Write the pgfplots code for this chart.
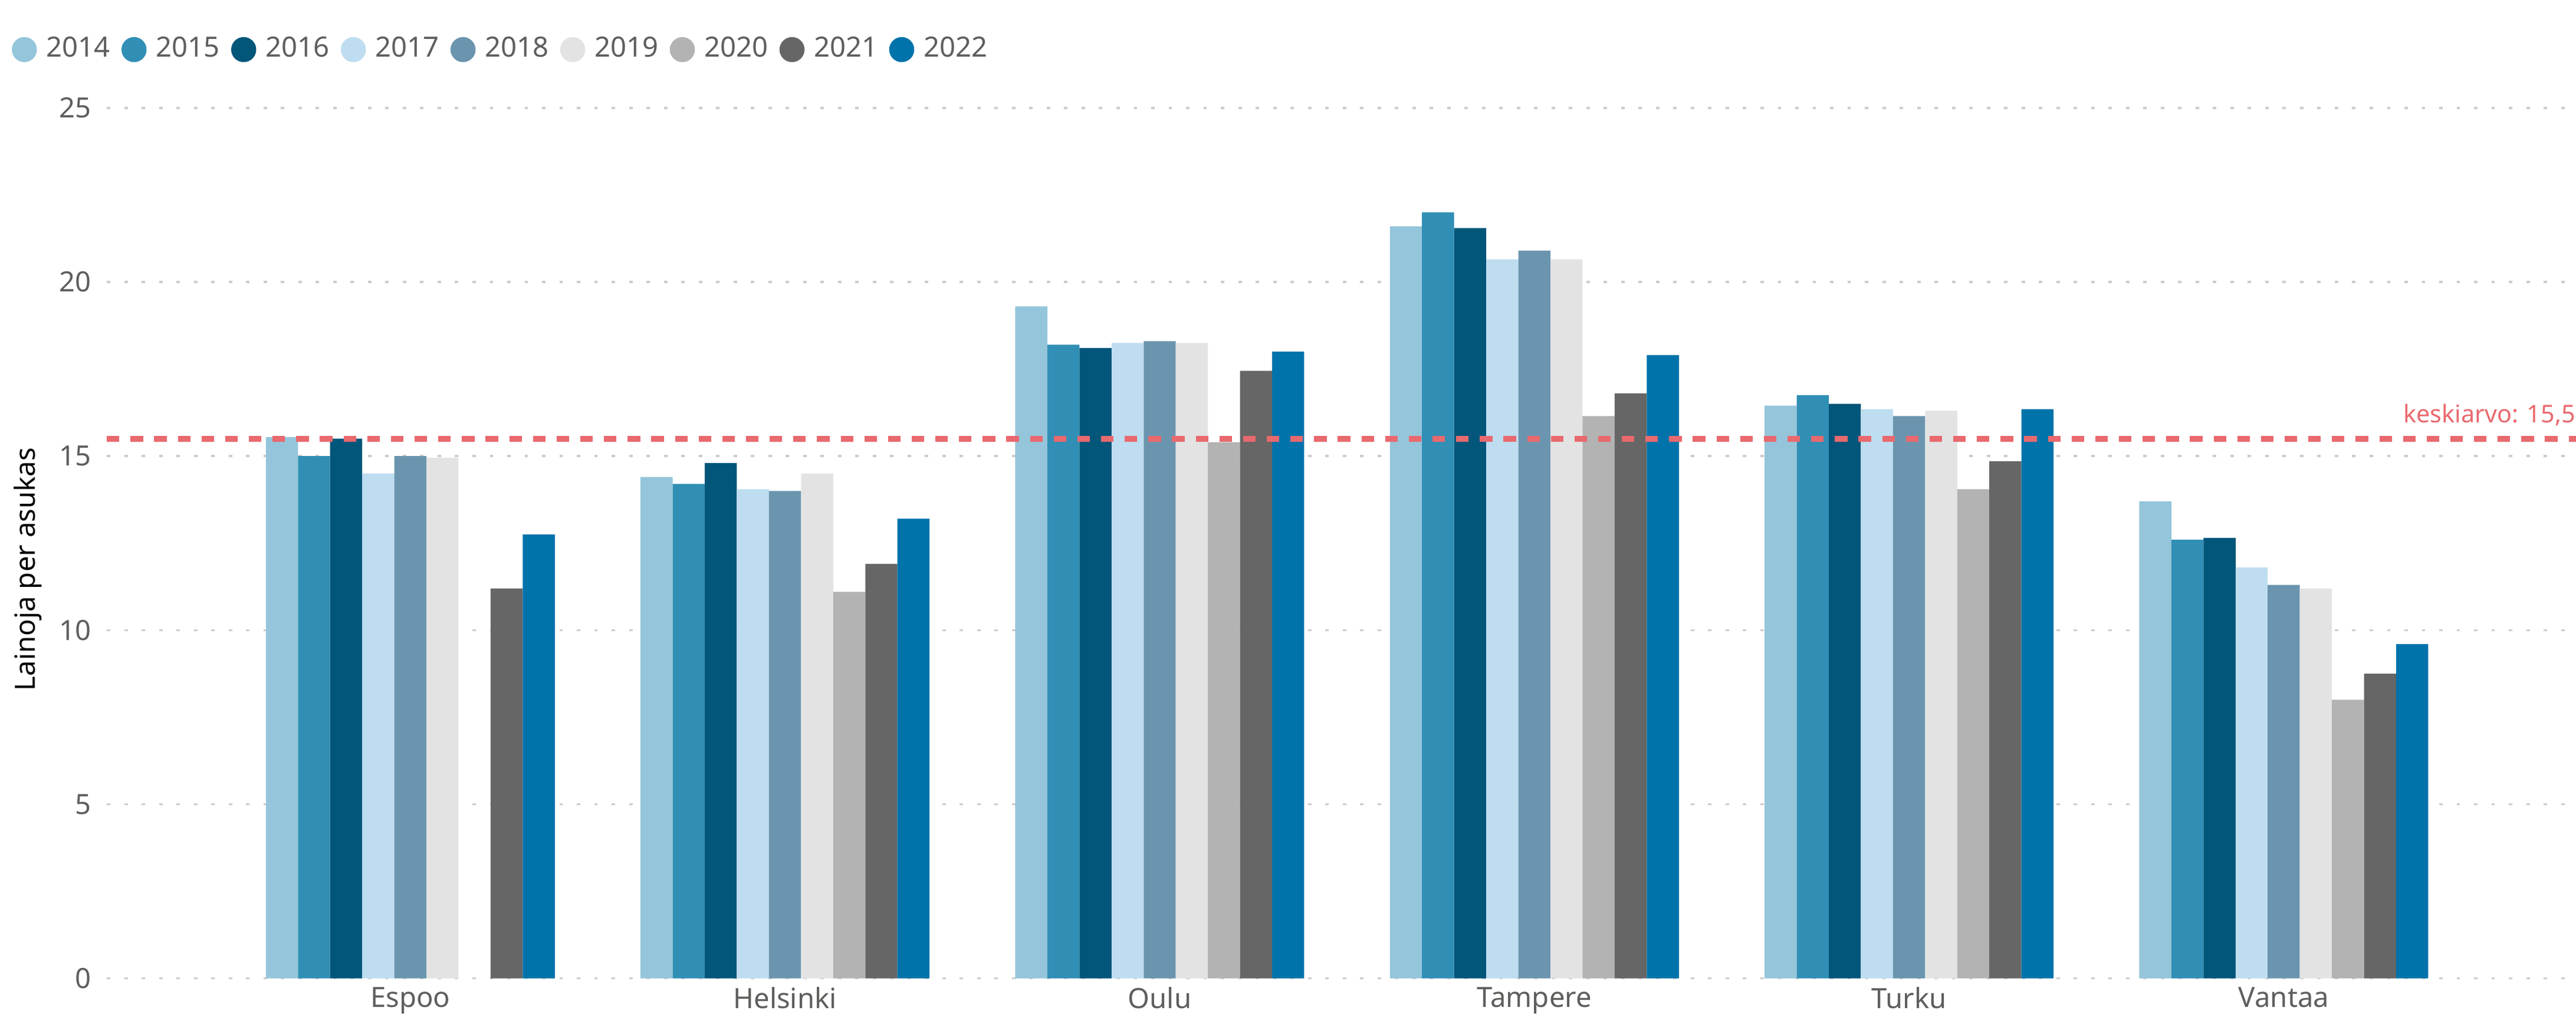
\documentclass[border=0pt]{standalone}
\usepackage{fontspec}
\setmainfont{Noto Sans}
\usepackage{pgfplots}
\pgfplotsset{compat=1.18}

\definecolor{c14}{HTML}{95C5DA}
\definecolor{c15}{HTML}{318FB5}
\definecolor{c16}{HTML}{02567A}
\definecolor{c17}{HTML}{BEDDF0}
\definecolor{c18}{HTML}{6B95AF}
\definecolor{c19}{HTML}{E3E3E3}
\definecolor{c20}{HTML}{B3B3B3}
\definecolor{c21}{HTML}{666666}
\definecolor{c22}{HTML}{0173AB}
\definecolor{avgred}{HTML}{E8696E}
\definecolor{ticktxt}{HTML}{605E5C}

\pgfplotsset{
  dotlegend/.style={legend image code/.code={\fill[##1] (0.3em,0em) circle (0.36em);}},
}

\begin{document}
\begin{tikzpicture}
\path[use as bounding box] (0,0) rectangle (740pt,294pt);
\begin{axis}[
  at={(30.7pt,13pt)}, anchor=south west,
  scale only axis,
  width=709.3pt, height=250pt,
  ymin=0, ymax=25,
  ytick={0,5,...,25},
  xmin=-0.81, xmax=5.78,
  xtick={0,1,2,3,4,5},
  xticklabels={Espoo,Helsinki,Oulu,Tampere,Turku,Vantaa},
  axis line style={draw=none},
  tick style={draw=none},
  ymajorgrids=true,
  grid style={gray!40, line width=0.6pt, dash pattern=on 1pt off 4pt},
  /pgf/number format/assume math mode=true,
  tick label style={font=\fontsize{8}{9}\selectfont, text=ticktxt},
  yticklabel style={xshift=-1pt},
  xticklabel style={yshift=1pt},
  ylabel={Lainoja per asukas},
  ylabel style={font=\fontsize{8}{9}\selectfont, at={(axis description cs:-0.032,0.47)}, anchor=center},
  legend style={draw=none, fill=none, at={(-0.043,1.067)}, anchor=west,
    font=\fontsize{8}{9}\selectfont, text=ticktxt, legend columns=-1,
    /tikz/every even column/.append style={column sep=1.3pt},
    /tikz/every odd column/.append style={column sep=0.7pt}},
  legend cell align=left,
]
\addplot[ybar, bar width=0.0857, bar shift=-0.3428, fill=c14, draw=none, dotlegend] coordinates {(0,15.55) (1,14.4) (2,19.3) (3,21.6) (4,16.45) (5,13.7)};
\addplot[ybar, bar width=0.0857, bar shift=-0.2571, fill=c15, draw=none, dotlegend] coordinates {(0,15.0) (1,14.2) (2,18.2) (3,22.0) (4,16.75) (5,12.6)};
\addplot[ybar, bar width=0.0857, bar shift=-0.1714, fill=c16, draw=none, dotlegend] coordinates {(0,15.5) (1,14.8) (2,18.1) (3,21.55) (4,16.5) (5,12.65)};
\addplot[ybar, bar width=0.0857, bar shift=-0.0857, fill=c17, draw=none, dotlegend] coordinates {(0,14.5) (1,14.05) (2,18.25) (3,20.65) (4,16.35) (5,11.8)};
\addplot[ybar, bar width=0.0857, bar shift=0, fill=c18, draw=none, dotlegend] coordinates {(0,15.0) (1,14.0) (2,18.3) (3,20.9) (4,16.15) (5,11.3)};
\addplot[ybar, bar width=0.0857, bar shift=0.0857, fill=c19, draw=none, dotlegend] coordinates {(0,14.95) (1,14.5) (2,18.25) (3,20.65) (4,16.3) (5,11.2)};
\addplot[ybar, bar width=0.0857, bar shift=0.1714, fill=c20, draw=none, dotlegend] coordinates {(1,11.1) (2,15.4) (3,16.15) (4,14.05) (5,8.0)};
\addplot[ybar, bar width=0.0857, bar shift=0.2571, fill=c21, draw=none, dotlegend] coordinates {(0,11.2) (1,11.9) (2,17.45) (3,16.8) (4,14.85) (5,8.75)};
\addplot[ybar, bar width=0.0857, bar shift=0.3428, fill=c22, draw=none, dotlegend] coordinates {(0,12.75) (1,13.2) (2,18.0) (3,17.9) (4,16.35) (5,9.6)};
\legend{2014,2015,2016,2017,2018,2019,2020,2021,2022}
% keskiarvo
\addplot[avgred, line width=1.7pt, dash pattern=on 3.6pt off 3.2pt, forget plot] coordinates {(-0.81,15.5) (5.78,15.5)};
\node[anchor=south east, font=\fontsize{7}{8}\selectfont, text=avgred, inner sep=0pt, yshift=3.5pt] at (axis cs:5.78,15.5) {keskiarvo: 15,5};
\end{axis}
\end{tikzpicture}
\end{document}
